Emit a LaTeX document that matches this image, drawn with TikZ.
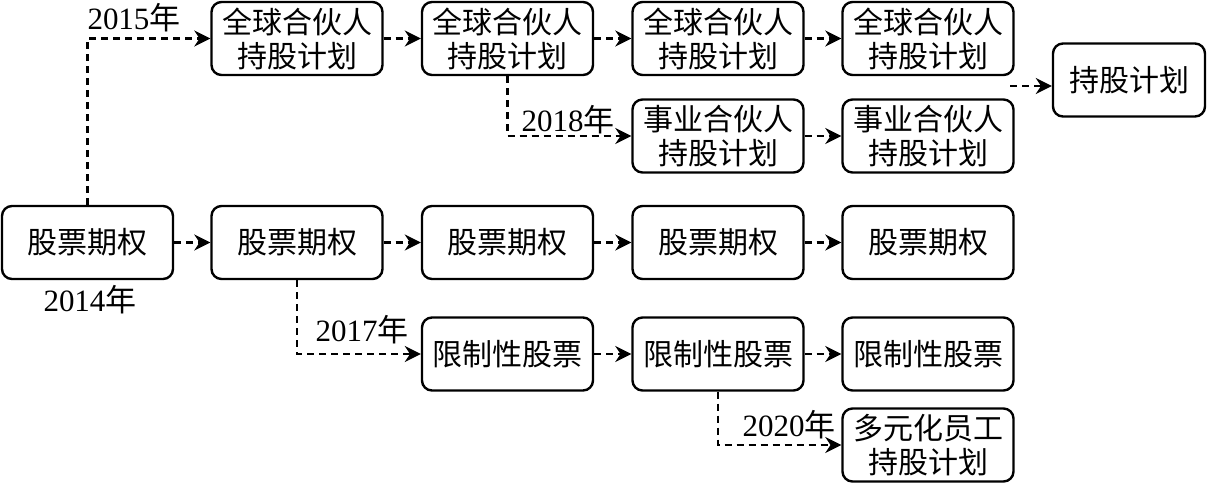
\documentclass[tikz,border=0pt]{standalone}
\usepackage{fontspec}
\setmainfont{Liberation Serif}
\newfontfamily\cjk{Noto Sans CJK SC}
\usetikzlibrary{arrows.meta}
\begin{document}
\begin{tikzpicture}[x=0.5pt,y=-0.5pt,
  box/.style={draw,line width=1.2pt,rounded corners=5pt,minimum width=85.5pt,minimum height=36.5pt,inner sep=0pt,align=center,font=\cjk\fontsize{15}{17}\selectfont},
  link/.style={line width=1.2pt,dash pattern=on 3.5pt off 2.5pt,-{Stealth[length=8pt,width=8pt]}},
  yr/.style={font=\fontsize{15.5}{17}\selectfont,inner sep=0pt}]
\useasboundingbox (0,0) rectangle (1207,484);
% row 0
\node[box] (g1) at (297,38.5) {全球合伙人\\持股计划};
\node[box] (g2) at (507.5,38.5) {全球合伙人\\持股计划};
\node[box] (g3) at (718,38.5) {全球合伙人\\持股计划};
\node[box] (g4) at (928,38.5) {全球合伙人\\持股计划};
% row 1
\node[box] (s3) at (718,136) {事业合伙人\\持股计划};
\node[box] (s4) at (928,136) {事业合伙人\\持股计划};
% final
\node[box,minimum width=76pt] (f) at (1129,80) {持股计划};
% row 2
\node[box] (a0) at (87.5,242.5) {股票期权};
\node[box] (p1) at (297,242.5) {股票期权};
\node[box] (p2) at (507.5,242.5) {股票期权};
\node[box] (p3) at (718,242.5) {股票期权};
\node[box] (p4) at (928,242.5) {股票期权};
% row 3
\node[box] (r2) at (507.5,354) {限制性股票};
\node[box] (r3) at (718,354) {限制性股票};
\node[box] (r4) at (928,354) {限制性股票};
% row 4
\node[box] (d4) at (928,445) {多元化员工\\持股计划};
% year labels
\node[yr] (y14) at (90,300) {2014{\cjk 年}};
\node[yr] (y15) at (134,18) {2015{\cjk 年}};
\node[yr] (y17) at (362,330) {2017{\cjk 年}};
\node[yr] (y18) at (568,120) {2018{\cjk 年}};
\node[yr] (y20) at (789,425) {2020{\cjk 年}};
% connectors
\draw[link] (a0.north) |- (g1.west);
\draw[link] (g1.east) -- (g2.west);
\draw[link] (g2.east) -- (g3.west);
\draw[link] (g3.east) -- (g4.west);
\draw[link] (g2.south) |- (s3.west);
\draw[link] (s3.east) -- (s4.west);
\coordinate (fs) at (1010,86);
\draw[link] (fs) -- (fs -| f.west);
\draw[link] (a0.east) -- (p1.west);
\draw[link] (p1.east) -- (p2.west);
\draw[link] (p2.east) -- (p3.west);
\draw[link] (p3.east) -- (p4.west);
\draw[link] (p1.south) |- (r2.west);
\draw[link] (r2.east) -- (r3.west);
\draw[link] (r3.east) -- (r4.west);
\draw[link] (r3.south) |- (d4.west);
\end{tikzpicture}
\end{document}
